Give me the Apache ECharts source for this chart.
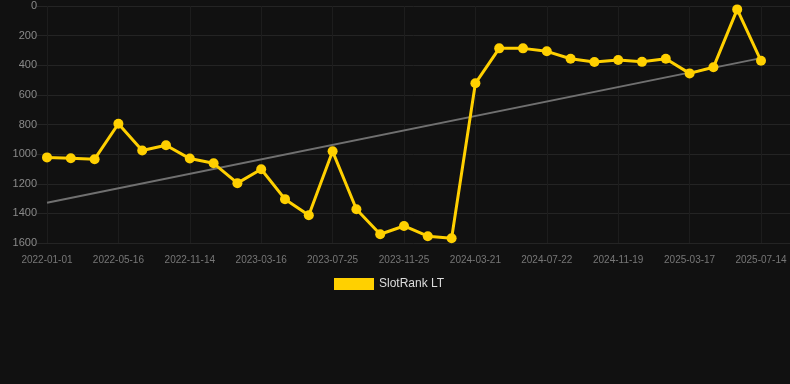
<!DOCTYPE html>
<html>
<head>
<meta charset="utf-8">
<script src="https://cdn.jsdelivr.net/npm/echarts@6/dist/echarts.min.js"></script>
<style>
html,body{margin:0;padding:0;background:#111111;}
#c{width:790px;height:384px;}
</style>
</head>
<body>
<div id="c"></div>
<script>
var dates = ['2022-01-01','2022-02-15','2022-03-31','2022-05-16','2022-07-15','2022-09-14','2022-11-14','2022-12-24','2023-02-02','2023-03-16','2023-04-28','2023-06-11','2023-07-25','2023-09-04','2023-10-15','2023-11-25','2024-01-08','2024-02-14','2024-03-21','2024-05-01','2024-06-11','2024-07-22','2024-09-01','2024-10-10','2024-11-19','2024-12-27','2025-02-06','2025-03-17','2025-04-25','2025-06-04','2025-07-14'];
var slotRank = [1022,1028,1034,795,976,940,1030,1062,1196,1102,1304,1413,981,1372,1541,1485,1554,1568,522,286,286,306,356,378,365,377,356,455,414,23,370];
var trend = [1328,null,null,null,null,null,null,null,null,null,null,null,null,null,null,null,null,null,null,null,null,null,null,null,null,null,null,null,null,null,352];
var yTicks = [0,200,400,600,800,1000,1200,1400,1600];
var FONT = 'Liberation Sans, Arial, sans-serif';

var chart = echarts.init(document.getElementById('c'));
chart.setOption({
  backgroundColor: '#111111',
  animation: false,
  grid: [
    {left: 47, right: 29, top: 6, bottom: 141},
    {left: 37, right: 0, top: 6, bottom: 141}
  ],
  legend: {
    data: ['SlotRank LT'],
    top: 273,
    left: 329,
    itemWidth: 40,
    itemHeight: 12,
    icon: 'rect',
    itemGap: 10,
    textStyle: {color: '#dddddd', fontSize: 12, fontFamily: FONT}
  },
  xAxis: [
    {
      type: 'category', gridIndex: 0, data: dates, boundaryGap: false,
      axisLine: {show: false}, axisTick: {show: false},
      axisLabel: {interval: 2, color: '#777777', fontSize: 10, margin: 12, fontFamily: FONT},
      splitLine: {show: true, interval: 2, lineStyle: {color: '#1d1d1d', width: 1}}
    },
    {type: 'value', gridIndex: 1, show: false}
  ],
  yAxis: [
    {
      type: 'value', gridIndex: 0, inverse: true, min: 0, max: 1600, interval: 200,
      axisLine: {show: false}, axisTick: {show: false},
      axisLabel: {color: '#8a8a8a', fontSize: 11, margin: 10, fontFamily: FONT,
        formatter: function (v) { return String(v); }},
      splitLine: {show: false}
    },
    {
      type: 'value', gridIndex: 1, inverse: true, min: 0, max: 1600, interval: 200,
      axisLine: {show: false}, axisTick: {show: false}, axisLabel: {show: false},
      splitLine: {show: true, lineStyle: {color: '#242424', width: 1}}
    }
  ],
  series: [
    {
      name: 'Trend', type: 'line', xAxisIndex: 0, yAxisIndex: 0,
      data: trend, connectNulls: true, symbol: 'none',
      lineStyle: {color: '#707070', width: 2}, z: 2, silent: true
    },
    {
      name: 'SlotRank LT', type: 'line', xAxisIndex: 0, yAxisIndex: 0,
      data: slotRank, symbol: 'circle', symbolSize: 10,
      itemStyle: {color: '#ffd000'},
      lineStyle: {color: '#ffd000', width: 3}, z: 3
    }
  ]
});
</script>
</body>
</html>
